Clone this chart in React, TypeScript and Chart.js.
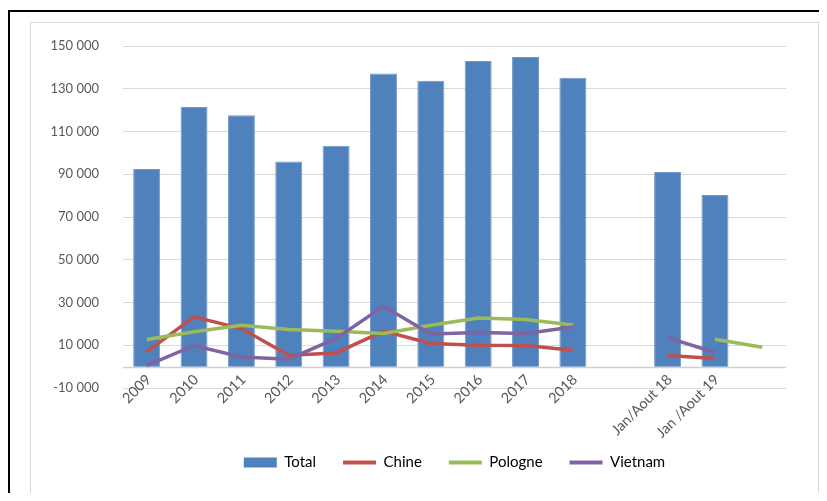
import React, { useEffect, useRef } from "react";
import { Chart, registerables } from "chart.js";

Chart.register(...registerables);

const categories = ["2009", "2010", "2011", "2012", "2013", "2014", "2015", "2016", "2017", "2018", "", "Jan/Aout 18", "Jan /Aout 19", ""];
const totalValues = [92500, 121500, 117600, 96000, 103300, 137100, 133700, 143000, 144800, 135200, null, 91000, 80300, null];
const chineValues = [6900, 23300, 17800, 5300, 6400, 16600, 10800, 10000, 9900, 7700, null, 5200, 3800, null];
const pologneValues = [12700, 16300, 19300, 17400, 16600, 15500, 19400, 22700, 22000, 19500, null, null, 12800, 9100];
const vietnamValues = [500, 9900, 4500, 3500, 13200, 28200, 15300, 16000, 15500, 18500, null, 13600, 6600, null];
const yMin = -10000;
const yMax = 150000;
const yStep = 20000;

const FONT = "Lato, 'Noto Sans', sans-serif";

const zeroLine = {
  id: "zeroLine",
  beforeDatasetsDraw(chart: any) {
    const { ctx, chartArea, scales } = chart;
    const y = Math.round(scales.y.getPixelForValue(0)) + 0.5;
    ctx.save();
    ctx.strokeStyle = "#d0d0d0";
    ctx.lineWidth = 1.5;
    ctx.beginPath();
    ctx.moveTo(chartArea.left, y);
    ctx.lineTo(chartArea.right, y);
    ctx.stroke();
    ctx.restore();
  },
};

function fmt(v: number) {
  const s = Math.abs(v).toString().replace(/\B(?=(\d{3})+(?!\d))/g, " ");
  return (v < 0 ? "-" : "") + s;
}

export default function App() {
  const ref = useRef<HTMLCanvasElement | null>(null);
  useEffect(() => {
    if (!ref.current) return;
    const chart = new Chart(ref.current, {
      type: "bar",
      data: {
        labels: categories,
        datasets: [
          {
            type: "bar",
            label: "Total",
            data: totalValues,
            backgroundColor: "#4F81BD",
            borderColor: "#7398c9",
            borderWidth: 1,
            barPercentage: 0.57,
            categoryPercentage: 1,
            order: 10,
          } as any,
          {
            type: "line",
            label: "Chine",
            data: chineValues,
            borderColor: "#C0504D",
            backgroundColor: "#C0504D",
            borderWidth: 3.5,
            pointRadius: 0,
            tension: 0,
            spanGaps: false,
            order: 3,
          },
          {
            type: "line",
            label: "Pologne",
            data: pologneValues,
            borderColor: "#9BBB59",
            backgroundColor: "#9BBB59",
            borderWidth: 3.5,
            pointRadius: 0,
            tension: 0,
            spanGaps: false,
            order: 2,
          },
          {
            type: "line",
            label: "Vietnam",
            data: vietnamValues,
            borderColor: "#8064A2",
            backgroundColor: "#8064A2",
            borderWidth: 3.5,
            pointRadius: 0,
            tension: 0,
            spanGaps: false,
            order: 1,
          },
        ],
      },
      options: {
        animation: false,
        responsive: false,
        maintainAspectRatio: false,
        layout: { padding: { left: 0, right: 31, top: 23, bottom: 14 } },
        scales: {
          x: {
            grid: { display: false, drawTicks: false },
            border: { display: false },
            ticks: {
              color: "#595959",
              font: { family: FONT, size: 14.5 },
              minRotation: 45,
              maxRotation: 45,
              padding: -17,
              labelOffset: 2,
              autoSkip: false,
            },
            afterFit(scale: any) {
              scale.height = 40;
              scale._computeLabelArea = () => undefined;
            },
          },
          y: {
            min: yMin,
            max: yMax,
            grid: { color: "#d9d9d9", drawTicks: false, lineWidth: 1 },
            border: { display: false },
            ticks: {
              stepSize: yStep,
              color: "#595959",
              font: { family: FONT, size: 13 },
              padding: 24,
              callback: (v: any) => fmt(Number(v)),
            },
            afterFit(scale: any) {
              scale.width = 92;
              scale.paddingTop = 0;
              scale.paddingBottom = 0;
            },
          },
        },
        plugins: {
          tooltip: { enabled: false },
          legend: {
            position: "bottom",
            fullSize: false,
            labels: {
              color: "#000000",
              font: { family: FONT, size: 15 },
              usePointStyle: true,
              pointStyleWidth: 33,
              boxHeight: 10,
              padding: 27,
              generateLabels(c: any) {
                return c.data.datasets.map((ds: any, i: number) => ({
                  text: ds.label,
                  fillStyle: ds.backgroundColor,
                  strokeStyle: ds.type === "bar" ? ds.backgroundColor : ds.borderColor,
                  lineWidth: ds.type === "bar" ? 0 : 4,
                  pointStyle: ds.type === "bar" ? "rect" : "line",
                  datasetIndex: i,
                  hidden: false,
                  fontColor: "#000000",
                }));
              },
            },
          },
        },
      } as any,
      plugins: [zeroLine],
    });
    return () => chart.destroy();
  }, []);

  return (
    <div style={{ position: "relative", width: 811, height: 485 }}>
      <div
        style={{
          position: "absolute",
          left: 0,
          top: 2,
          width: 830,
          height: 500,
          borderTop: "2px solid #000",
          borderLeft: "2px solid #000",
          boxSizing: "border-box",
        }}
      />
      <div
        style={{
          position: "absolute",
          left: 22,
          top: 14,
          width: 787,
          height: 472,
          border: "1px solid #d9d9d9",
          background: "#fff",
        }}
      >
        <canvas ref={ref} width={786} height={471} style={{ display: "block", width: 786, height: 471 }} />
      </div>
    </div>
  );
}
